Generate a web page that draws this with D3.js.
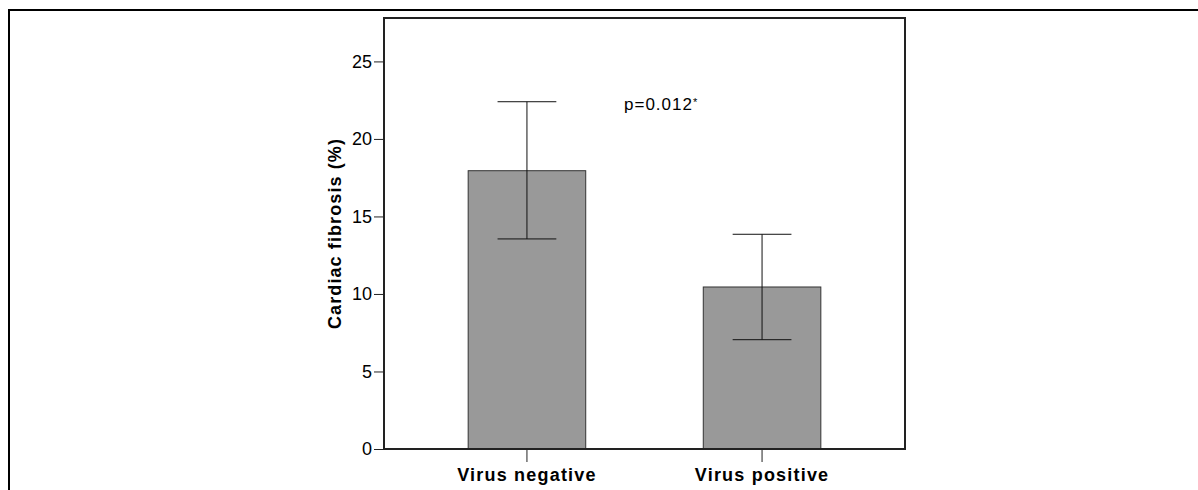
<!DOCTYPE html>
<html>
<head>
<meta charset="utf-8">
<script src="https://cdn.jsdelivr.net/npm/d3@7"></script>
<style>
  body { margin: 0; background: #fff; }
  svg text { font-family: "Liberation Sans", Arial, sans-serif; }
</style>
</head>
<body>
<div id="chart"></div>
<script>
const width = 1198;
const height = 490;

// data
const groups = ["Virus negative", "Virus positive"];
const means = [17.95, 10.45];
const upper = [22.4, 13.85];
const lower = [13.55, 7.05];
const yTicks = [0, 5, 10, 15, 20, 25];
const pLabel = "p=0.012";

const margin = { top: 18, left: 384, bottom: 41, right: 293 };

const svg = d3.select("#chart").append("svg").attr("width", width).attr("height", height);

// outer frame (top + left only)
svg.append("path")
    .attr("d", `M9,${height} V10 H${width}`)
    .attr("fill", "none")
    .attr("stroke", "#000")
    .attr("stroke-width", 2);

const xScale = d3.scaleBand()
    .domain(groups)
    .range([margin.left, width - margin.right])
    .paddingInner(0.5)
    .paddingOuter(0.358);

const yScale = d3.scaleLinear()
    .domain([0, 27.8])
    .range([height - margin.bottom, margin.top]);

// bars
svg.selectAll("rect.bar")
    .data(groups)
    .join("rect")
    .attr("class", "bar")
    .attr("x", d => xScale(d))
    .attr("y", (d, i) => yScale(means[i]))
    .attr("width", xScale.bandwidth())
    .attr("height", (d, i) => yScale(0) - yScale(means[i]))
    .attr("fill", "#999999")
    .attr("stroke", "#333")
    .attr("stroke-width", 1);

// error bars
const capW = xScale.bandwidth() / 4;
const eb = svg.selectAll("g.err")
    .data(groups)
    .join("g")
    .attr("class", "err")
    .attr("stroke", "#111")
    .attr("stroke-width", 1);

eb.append("line")
    .attr("x1", d => xScale(d) + xScale.bandwidth() / 2)
    .attr("x2", d => xScale(d) + xScale.bandwidth() / 2)
    .attr("y1", (d, i) => yScale(upper[i]))
    .attr("y2", (d, i) => yScale(lower[i]));
eb.append("line")
    .attr("x1", d => xScale(d) + xScale.bandwidth() / 2 - capW)
    .attr("x2", d => xScale(d) + xScale.bandwidth() / 2 + capW)
    .attr("y1", (d, i) => yScale(upper[i]))
    .attr("y2", (d, i) => yScale(upper[i]));
eb.append("line")
    .attr("x1", d => xScale(d) + xScale.bandwidth() / 2 - capW)
    .attr("x2", d => xScale(d) + xScale.bandwidth() / 2 + capW)
    .attr("y1", (d, i) => yScale(lower[i]))
    .attr("y2", (d, i) => yScale(lower[i]));

// plot frame
svg.append("rect")
    .attr("x", margin.left)
    .attr("y", margin.top)
    .attr("width", width - margin.left - margin.right)
    .attr("height", height - margin.top - margin.bottom)
    .attr("fill", "none")
    .attr("stroke", "#222")
    .attr("stroke-width", 2);

// axes
const yAxis = svg.append("g")
    .attr("transform", `translate(${margin.left},0)`)
    .call(d3.axisLeft(yScale).tickValues(yTicks).tickSize(10).tickPadding(2));
yAxis.select(".domain").remove();
yAxis.selectAll("line").attr("stroke", "#222");
yAxis.selectAll("text").attr("font-size", 18).attr("fill", "#000")
    .style("font-family", "'Liberation Sans', Arial, sans-serif");

const xAxis = svg.append("g")
    .attr("transform", `translate(0,${height - margin.bottom})`)
    .call(d3.axisBottom(xScale).tickSize(13).tickPadding(6));
xAxis.select(".domain").remove();
xAxis.selectAll("line").attr("stroke", "#222");
xAxis.selectAll("text").attr("font-size", 18).attr("font-weight", "bold").attr("fill", "#000")
    .attr("letter-spacing", 1.2)
    .style("font-family", "'Liberation Sans', Arial, sans-serif");

// y label
svg.append("text")
    .attr("transform", `translate(341,${(margin.top + height - margin.bottom) / 2}) rotate(-90)`)
    .attr("text-anchor", "middle")
    .attr("font-size", 18)
    .attr("font-weight", "bold")
    .attr("letter-spacing", 1.1)
    .text("Cardiac fibrosis (%)");

// p value annotation
const pt = svg.append("text")
    .attr("x", 624)
    .attr("y", 110)
    .attr("font-size", 17)
    .attr("letter-spacing", 1)
    .text(pLabel);
pt.append("tspan").attr("font-size", 11).attr("dy", -4).text("*");
</script>
</body>
</html>
